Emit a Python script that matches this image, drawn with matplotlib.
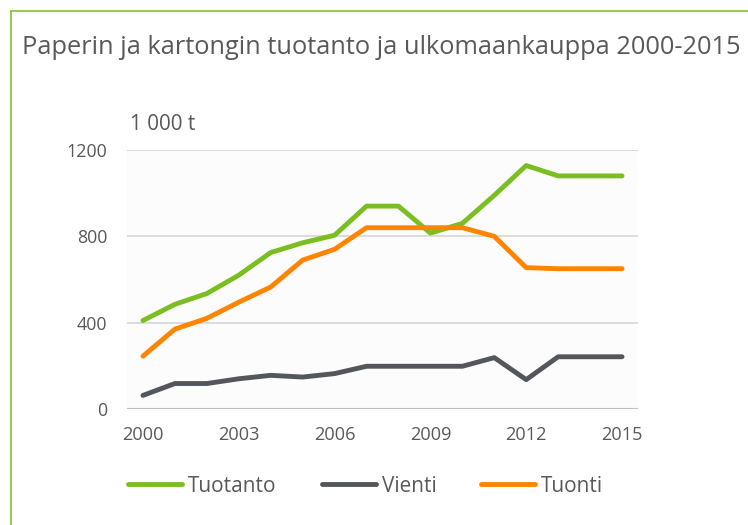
import matplotlib
matplotlib.use('Agg')
import matplotlib.pyplot as plt
from matplotlib import font_manager as fm
from matplotlib.lines import Line2D

# ---- data ----
years = list(range(2000, 2016))
tuotanto = [410, 485, 535, 620, 725, 770, 805, 940, 940, 815, 860, 990, 1128, 1080, 1080, 1080]
vienti = [63, 118, 118, 140, 156, 148, 164, 198, 198, 198, 198, 238, 136, 242, 242, 242]
tuonti = [245, 370, 420, 495, 565, 690, 740, 840, 840, 840, 840, 800, 655, 650, 650, 650]
series_names = ['Tuotanto', 'Vienti', 'Tuonti']
yticks = [0, 400, 800, 1200]
xtick_years = [2000, 2003, 2006, 2009, 2012, 2015]
title_text = 'Paperin ja kartongin tuotanto ja ulkomaankauppa 2000-2015'
unit_text = '1 000 t'

colors = ['#7abf1f', '#53565a', '#ff8500']
text_color = '#595959'
frame_color = '#8dc63f'


def pick_font(cands):
    for c in cands:
        try:
            fm.findfont(fm.FontProperties(family=c), fallback_to_default=False)
            return c
        except Exception:
            pass
    return 'DejaVu Sans'


font = pick_font(['Open Sans', 'Lato', 'Noto Sans'])
plt.rcParams['font.family'] = [font, 'DejaVu Sans']

W, H = 748, 525
fig = plt.figure(figsize=(W / 100, H / 100), dpi=100)
fig.patch.set_facecolor('white')
renderer = fig.canvas.get_renderer()


def fit_size(s, target_px, base=10):
    t = fig.text(0, 0, s, fontsize=base)
    w = t.get_window_extent(renderer).width
    t.remove()
    return base * target_px / w


# frame
fig.add_artist(Line2D([11 / W, 11 / W], [0, 1 - 11 / H], color=frame_color, lw=1.3,
                      transform=fig.transFigure))
fig.add_artist(Line2D([11 / W, 1], [1 - 11 / H, 1 - 11 / H], color=frame_color, lw=1.3,
                      transform=fig.transFigure))

# axes
left, right, top, bottom = 127, 638, 150, 409
ax = fig.add_axes([left / W, 1 - bottom / H, (right - left) / W, (bottom - top) / H])
ax.set_facecolor('#fcfcfc')

series = [tuotanto, vienti, tuonti]
for name, vals, c in zip(series_names, series, colors):
    ax.plot(years, vals, color=c, lw=3.5, solid_capstyle='round',
            solid_joinstyle='round', label=name, zorder=3)

ax.set_xlim(1999.5, 2015.5)
ax.set_ylim(0, 1200)
ax.set_yticks(yticks)
ax.set_xticks(xtick_years)
for s in ax.spines.values():
    s.set_visible(False)
for yv in yticks[1:]:
    ax.axhline(yv, color='#d9d9d9', lw=1.3, zorder=1)
ax.axhline(0, color='#bfbfbf', lw=1.5, zorder=2)

xfs = fit_size('2000', 41.5)
yfs = fit_size('1200', 41)
ax.tick_params(axis='x', length=0, labelsize=xfs, labelcolor=text_color, pad=12)
ax.tick_params(axis='y', length=0, labelsize=yfs, labelcolor=text_color, pad=14)

# title and unit
tfs = fit_size(title_text, 720)
fig.text(22 / W, 1 - 54 / H, title_text, fontsize=tfs, color=text_color, va='baseline', ha='left')
ufs = fit_size(unit_text, 66)
fig.text(130 / W, 1 - 130 / H, unit_text, fontsize=ufs, color=text_color, va='baseline', ha='left')

# legend
lfs = fit_size('Tuotanto', 88)
fs_px = lfs * 100 / 72
handles = [Line2D([], [], color=c, lw=3.5, solid_capstyle='round') for c in colors]
leg = fig.legend(handles, series_names, loc='center left',
                 bbox_to_anchor=(128 / W, 1 - 486 / H), ncol=3, frameon=False,
                 fontsize=lfs, handlelength=54 / fs_px, handletextpad=6 / fs_px,
                 columnspacing=45 / fs_px, borderpad=0, borderaxespad=0)
for t in leg.get_texts():
    t.set_color(text_color)

fig.savefig('out.png', dpi=100, facecolor='white')
